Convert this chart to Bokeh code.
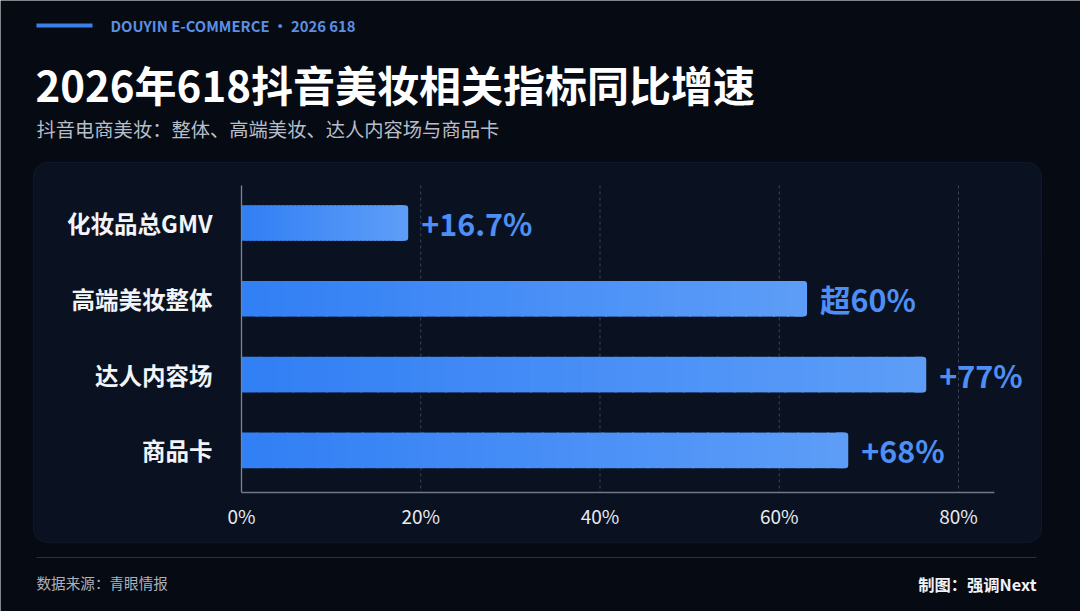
import numpy as np
from bokeh.plotting import figure
from bokeh.models import Range1d, BoxAnnotation
from bokeh.core.properties import value
from bokeh.embed import file_html
from bokeh.resources import INLINE

# ---------------- data ----------------
categories = ["化妆品总GMV", "高端美妆整体", "达人内容场", "商品卡"]
bar_values = [18.6, 63.1, 76.4, 67.7]          # bar lengths as drawn (%)
value_labels = ["+16.7%", "超60%", "+77%", "+68%"]
tick_values = [0, 20, 40, 60, 80]
tick_labels = ["0%", "20%", "40%", "60%", "80%"]
axis_max = 84

header_text = "DOUYIN E-COMMERCE · 2026 618"
title_text = "2026年618抖音美妆相关指标同比增速"
subtitle_text = "抖音电商美妆：整体、高端美妆、达人内容场与商品卡"
source_text = "数据来源：青眼情报"
credit_text = "制图：强调Next"

# ---------------- layout constants (canvas px, top-down) ----------------
W, H = 1080, 611
X0_PX = 241
X80_PX = 958
CAT0_PX = 222.5
CAT_STEP = 75.8
PLOT_TOP = 185
PLOT_BOT = 492

FONT = value("Noto Sans CJK SC")
BG = "#060a12"

s = (X80_PX - X0_PX) / 80.0

p = figure(width=W, height=H, output_backend="svg", toolbar_location=None,
           x_range=Range1d(0, W), y_range=Range1d(H, 0),
           x_axis_location=None, y_axis_location=None, min_border=0)
p.extra_x_ranges = {"val": Range1d(-X0_PX / s, (W - X0_PX) / s)}
p.extra_y_ranges = {"cat": Range1d((H - CAT0_PX) / CAT_STEP, -CAT0_PX / CAT_STEP)}
p.grid.visible = False
p.outline_line_color = None
p.background_fill_color = BG
p.border_fill_color = BG

# panel
panel = BoxAnnotation(left=33, right=1041, top=162, bottom=542,
                      fill_color="#0a1222", fill_alpha=1.0, line_color="#21304a",
                      line_width=1.2, border_radius=14, level="underlay")
p.add_layout(panel)

# header line + texts
p.segment(x0=[36], y0=[25], x1=[92], y1=[25], line_color="#3c7fe9", line_width=4)
p.text(x=[110], y=[25], text=[header_text], text_font=FONT,
       text_font_size="14.8px", text_font_style="bold", text_color="#5b8fe4",
       text_align="left", text_baseline="middle")
p.text(x=[35], y=[83], text=[title_text], text_font=FONT,
       text_font_size="42px", text_font_style="bold", text_color="#ffffff",
       text_align="left", text_baseline="middle")
p.text(x=[36], y=[128], text=[subtitle_text], text_font=FONT,
       text_font_size="19.3px", text_color="#b7becb",
       text_align="left", text_baseline="middle")

# gridlines
grid_x = [t for t in tick_values if t > 0]
p.segment(x0=grid_x, y0=[PLOT_TOP] * len(grid_x), x1=grid_x, y1=[PLOT_BOT] * len(grid_x),
          x_range_name="val", line_color="#3a4356", line_width=1, line_dash="3 3")

# bars with horizontal gradient and rounded right end
idx = np.arange(len(categories))
c0 = np.array([0x32, 0x80, 0xf5])
c1 = np.array([0x5d, 0x9d, 0xf8])
end_col = "#%02x%02x%02x" % tuple(c1)
BAR_H = 0.47
cap_w = 14 / s
cover = 6 / s
overlap = 2 / s
p.hbar(y=idx, left=[v - cap_w for v in bar_values], right=bar_values, height=BAR_H,
       fill_color=end_col, line_color=None, border_radius=3,
       x_range_name="val", y_range_name="cat")
N = 40
lefts, rights, ys, cols = [], [], [], []
for i, v in enumerate(bar_values):
    vend = v - cover
    edges = np.linspace(0, vend, N + 1)
    for k in range(N):
        t = k / (N - 1)
        c = (c0 + (c1 - c0) * t).astype(int)
        lefts.append(edges[k])
        rights.append(edges[k + 1] + overlap)
        ys.append(idx[i])
        cols.append("#%02x%02x%02x" % tuple(c))
p.hbar(y=ys, left=lefts, right=rights, height=BAR_H, fill_color=cols,
       line_color=None, x_range_name="val", y_range_name="cat")

# axis lines
p.segment(x0=[0], y0=[PLOT_TOP], x1=[0], y1=[PLOT_BOT], x_range_name="val",
          line_color="#7c8596", line_width=1.3)
p.segment(x0=[0], y0=[PLOT_BOT], x1=[axis_max], y1=[PLOT_BOT], x_range_name="val",
          line_color="#6f7889", line_width=1.3)

# tick labels
p.text(x=tick_values, y=[515] * len(tick_values), text=tick_labels,
       x_range_name="val", text_font=FONT, text_font_size="19px",
       text_color="#e8ebf0", text_align="center", text_baseline="middle")

# category labels
p.text(x=[212] * len(categories), y=idx, text=categories, y_range_name="cat",
       text_font=FONT, text_font_size="23.5px", text_font_style="bold",
       text_color="#f2f4f8", text_align="right", text_baseline="middle")

# value labels
p.text(x=bar_values, y=idx, text=value_labels, x_range_name="val", y_range_name="cat",
       x_offset=13, text_font=FONT, text_font_size="30.5px", text_font_style="bold",
       text_color="#4d8ff5", text_align="left", text_baseline="middle")

# footer
p.segment(x0=[36], y0=[557], x1=[1036], y1=[557], line_color="#283246", line_width=1.2)
p.text(x=[36], y=[582], text=[source_text], text_font=FONT,
       text_font_size="14.6px", text_color="#aab1bd",
       text_align="left", text_baseline="middle")
p.text(x=[1036], y=[583], text=[credit_text], text_font=FONT,
       text_font_size="16.3px", text_font_style="bold", text_color="#f0f2f6",
       text_align="right", text_baseline="middle")

open("out.html", "w").write(file_html(p, INLINE))
